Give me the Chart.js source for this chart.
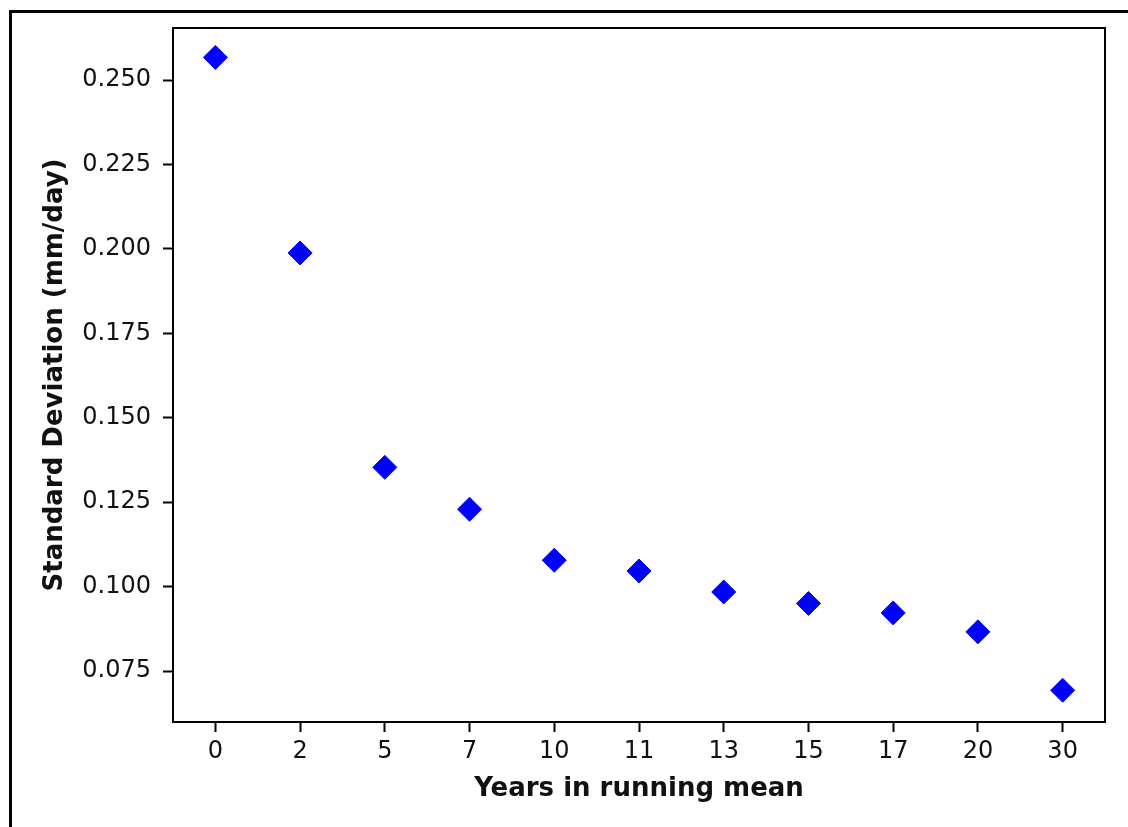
<!DOCTYPE html>
<html>
<head>
<meta charset="utf-8">
<script src="https://cdn.jsdelivr.net/npm/chart.js@4/dist/chart.umd.min.js"></script>
<style>
  html, body { margin: 0; padding: 0; background: #fff; overflow: hidden; }
  #wrap { position: relative; width: 1128px; height: 827px; }
  #frame { position: absolute; left: 9px; top: 10px; width: 1300px; height: 1000px;
           border: 3px solid #000; box-sizing: border-box; }
  #c { position: absolute; left: 0; top: 0; }
</style>
</head>
<body>
<div id="wrap">
  <div id="frame"></div>
  <canvas id="c" width="1128" height="827"></canvas>
</div>
<script>
// Running-mean window lengths (years) and the standard deviation of each smoothed series
const years  = ['0', '2', '5', '7', '10', '11', '13', '15', '17', '20', '30'];
const stdDev = [0.2567, 0.1988, 0.1353, 0.1229, 0.1078, 0.1046, 0.0984, 0.0950, 0.0922, 0.0866, 0.0693];

// Y axis ticks and limits
const yTicks = [0.075, 0.100, 0.125, 0.150, 0.175, 0.200, 0.225, 0.250];
const yMin = 0.0599;
const yMax = 0.2654;

const FONT = 'DejaVu Sans';
const INK = '#111';

// Full box around the plotting area
const boxPlugin = {
  id: 'plotBox',
  afterDraw(chart) {
    const { ctx, chartArea: a } = chart;
    ctx.save();
    ctx.strokeStyle = '#000';
    ctx.lineWidth = 2;
    ctx.strokeRect(a.left, a.top, a.right - a.left, a.bottom - a.top);
    ctx.restore();
  }
};

new Chart(document.getElementById('c'), {
  type: 'line',
  data: {
    labels: years,
    datasets: [{
      data: stdDev,
      showLine: false,
      pointStyle: 'rectRot',
      pointRadius: 12,
      pointHoverRadius: 12,
      pointBackgroundColor: '#0000ff',
      pointBorderColor: '#0000ff',
      pointBorderWidth: 1
    }]
  },
  options: {
    responsive: false,
    animation: false,
    events: [],
    layout: { padding: { left: 0, top: 28, right: 23, bottom: 0 } },
    plugins: { legend: { display: false }, tooltip: { enabled: false } },
    scales: {
      x: {
        type: 'category',
        offset: true,
        border: { display: false },
        grid: { offset: false, drawOnChartArea: false, drawTicks: true,
                tickLength: 10, tickColor: '#000', tickWidth: 2 },
        ticks: { color: INK, padding: 5, maxRotation: 0, autoSkip: false,
                 font: { family: FONT, size: 24 } },
        title: { display: true, text: 'Years in running mean', color: INK,
                 font: { family: FONT, size: 26, weight: 'bold' },
                 padding: { top: 0, bottom: 22 } },
        afterFit(s) { s.height = 105; }
      },
      y: {
        type: 'linear',
        min: yMin,
        max: yMax,
        border: { display: false },
        grid: { drawOnChartArea: false, drawTicks: true,
                tickLength: 10, tickColor: '#000', tickWidth: 2 },
        ticks: { color: INK, padding: 12, includeBounds: false,
                 font: { family: FONT, size: 24 },
                 callback: v => v.toFixed(3) },
        afterBuildTicks(s) { s.ticks = yTicks.map(v => ({ value: v })); },
        title: { display: true, text: 'Standard Deviation (mm/day)', color: INK,
                 font: { family: FONT, size: 26, weight: 'bold' },
                 padding: { top: 40, bottom: 0 } },
        afterFit(s) { s.width = 173; }
      }
    }
  },
  plugins: [boxPlugin]
});
</script>
</body>
</html>
